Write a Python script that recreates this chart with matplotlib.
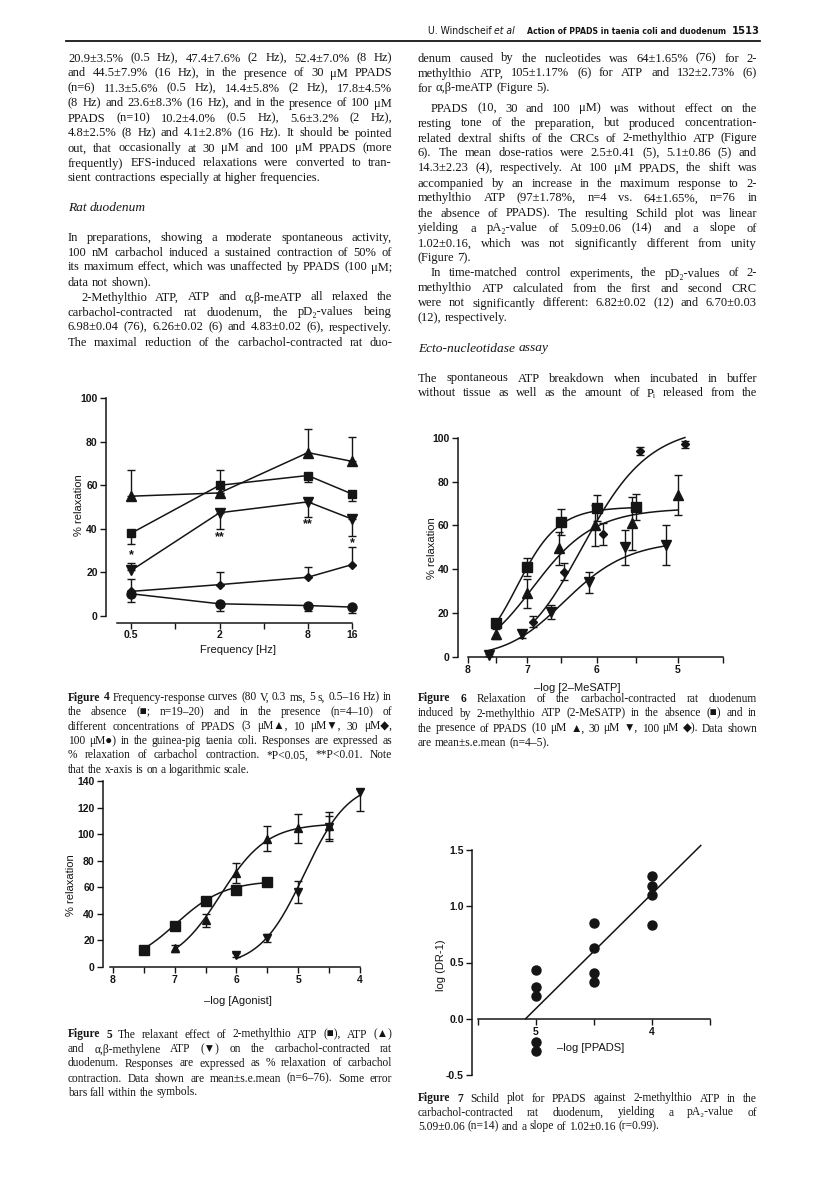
import numpy as np
import matplotlib
matplotlib.use('Agg')
import matplotlib.pyplot as plt
from matplotlib.lines import Line2D
from matplotlib.ticker import NullLocator
from matplotlib import font_manager

W, H = 816, 1187
SERIF = ['Liberation Serif', 'DejaVu Sans']
SANS = ['Liberation Sans', 'DejaVu Sans']
INK = '#151515'

# condensed sans for the running head, if one is installed
condensed = [f for f in font_manager.fontManager.ttflist
             if f.name in ('Liberation Sans Narrow', 'DejaVu Sans') and f.stretch == 'condensed']
if any(f.name == 'Liberation Sans Narrow' for f in font_manager.fontManager.ttflist):
    HEAD, HEAD_STRETCH = ['Liberation Sans Narrow', 'DejaVu Sans'], 'normal'
elif condensed:
    HEAD, HEAD_STRETCH = ['DejaVu Sans'], 'condensed'
else:
    HEAD, HEAD_STRETCH = SANS, 'normal'

# ---------------- Figure 4: taenia coli, EFS frequency-response ----------------
freq_hz = [0.5, 2, 8, 16]
ctrl_mean = [38, 60, 64.5, 56]
ctrl_lo = [5, 0, 3, 3]
ctrl_hi = [0, 7, 0, 0]
p3_mean = [55, 56.5, 75, 71]
p3_lo = [0, 0, 0, 0]
p3_hi = [12, 0, 11, 11]
p10_mean = [20.9, 47.4, 52.4, 44.5]
p10_lo = [0, 7.6, 7.0, 7.9]
p10_hi = [3.5, 0, 0, 0]
p30_mean = [11.3, 14.4, 17.8, 23.6]
p30_lo = [0, 0, 0, 0]
p30_hi = [5.6, 5.8, 4.5, 8.3]
p100_mean = [10.2, 5.6, 4.8, 4.1]
p100_lo = [4.0, 3.2, 2.5, 2.8]
p100_hi = [0, 0, 0, 0]
sig_marks = ['*', '**', '**', '*']
sig_y = [28, 36, 42, 33.5]

# ---------------- Figure 6: 2-MeSATP with PPADS ----------------
f6_sq_x = [7.5, 7.0, 6.5, 6.0, 5.5]
f6_sq_y = [15.5, 41, 61.5, 68, 68.5]
f6_sq_err = [1.5, 4, 6, 6, 6]
f6_up_x = [7.5, 7.0, 6.53, 6.03, 5.55, 5.0]
f6_up_y = [10.5, 29, 49.5, 60, 61, 74]
f6_up_err = [2.5, 6.5, 7.7, 9.5, 12, 9]
f6_dn_x = [7.62, 7.08, 6.64, 6.1, 5.64, 5.14]
f6_dn_y = [1, 10.5, 20.5, 34, 50, 51]
f6_dn_err = [0.5, 2, 3, 5, 8, 9]
f6_di_x = [6.9, 6.45, 5.92, 5.45, 4.92]
f6_di_y = [16, 39, 56, 94, 97]
f6_di_err = [2.5, 4, 5, 2, 1.5]
# fitted curves: top, pEC50, slope, from, to
f6_sq_fit = [68.5, 7.12, 1.4, 7.5, 5.5]
f6_up_fit = [68, 6.85, 1.0, 7.5, 5.0]
f6_dn_fit = [53.5, 6.4, 1.0, 7.65, 5.13]
f6_di_fit = [106, 6.15, 1.0, 6.9, 4.92]

# ---------------- Figure 5: agonists on rat duodenum ----------------
f5_sq_x = [7.5, 7.0, 6.5, 6.0, 5.5]
f5_sq_y = [13, 31, 50, 58, 64]
f5_up_x = [7.0, 6.5, 6.0, 5.5, 5.0, 4.5]
f5_up_y = [14, 35, 70.5, 96.5, 104.5, 106]
f5_up_err = [2.5, 5, 7.5, 9.5, 11, 11]
f5_dn_x = [6.0, 5.5, 5.0, 4.5, 4.0]
f5_dn_y = [9, 22, 56.5, 105, 132]
f5_dn_lo = [1.5, 3, 8.5, 9, 14.5]
f5_dn_hi = [1.5, 3, 8.5, 9, 2]
f5_sq_fit = [65, 6.98, 1.1, 7.5, 5.5]
f5_up_fit = [108, 6.26, 1.15, 7.0, 4.5]
f5_dn_fit = [140, 4.9, 1.2, 6.0, 4.0]

# ---------------- Figure 7: Schild plot ----------------
f7_x = [5, 5, 5, 5, 5, 4.5, 4.5, 4.5, 4.5, 4, 4, 4, 4]
f7_y = [0.43, 0.28, 0.20, -0.21, -0.29, 0.85, 0.63, 0.41, 0.33, 1.27, 1.18, 1.10, 0.83]
pA2 = 5.09
schild_slope = 1.02
schild_end = 3.58

# ---------------- page text ----------------
header_left = 'U. Windscheif'
header_mid = 'Action of PPADS in taenia coli and duodenum'
page_no = '1513'

left_body = [
    ('20.9±3.5% (0.5 Hz), 47.4±7.6% (2 Hz), 52.4±7.0% (8 Hz)', 'j'),
    ('and 44.5±7.9% (16 Hz), in the presence of 30 μM PPADS', 'j'),
    ('(n=6) 11.3±5.6% (0.5 Hz), 14.4±5.8% (2 Hz), 17.8±4.5%', 'j'),
    ('(8 Hz) and 23.6±8.3% (16 Hz), and in the presence of 100 μM', 'j'),
    ('PPADS (n=10) 10.2±4.0% (0.5 Hz), 5.6±3.2% (2 Hz),', 'j'),
    ('4.8±2.5% (8 Hz) and 4.1±2.8% (16 Hz). It should be pointed', 'j'),
    ('out, that occasionally at 30 μM and 100 μM PPADS (more', 'j'),
    ('frequently) EFS-induced relaxations were converted to tran-', 'j'),
    ('sient contractions especially at higher frequencies.', 'l'),
    ('Rat duodenum', 'h'),
    ('In preparations, showing a moderate spontaneous activity,', 'j'),
    ('100 nM carbachol induced a sustained contraction of 50% of', 'j'),
    ('its maximum effect, which was unaffected by PPADS (100 μM;', 'j'),
    ('data not shown).', 'l'),
    ('2-Methylthio ATP, ATP and α,β-meATP all relaxed the', 'i'),
    ('carbachol-contracted rat duodenum, the pD₂-values being', 'j'),
    ('6.98±0.04 (76), 6.26±0.02 (6) and 4.83±0.02 (6), respectively.', 'j'),
    ('The maximal reduction of the carbachol-contracted rat duo-', 'j'),
]
left_rows = [57, 72, 87, 102, 117, 132, 147, 162, 177, 207, 236, 251, 266, 281, 296, 311, 326, 341]

right_body = [
    ('denum caused by the nucleotides was 64±1.65% (76) for 2-', 'j'),
    ('methylthio ATP, 105±1.17% (6) for ATP and 132±2.73% (6)', 'j'),
    ('for α,β-meATP (Figure 5).', 'l'),
    ('PPADS (10, 30 and 100 μM) was without effect on the', 'i'),
    ('resting tone of the preparation, but produced concentration-', 'j'),
    ('related dextral shifts of the CRCs of 2-methylthio ATP (Figure', 'j'),
    ('6). The mean dose-ratios were 2.5±0.41 (5), 5.1±0.86 (5) and', 'j'),
    ('14.3±2.23 (4), respectively. At 100 μM PPADS, the shift was', 'j'),
    ('accompanied by an increase in the maximum response to 2-', 'j'),
    ('methylthio ATP (97±1.78%, n=4 vs. 64±1.65%, n=76 in', 'j'),
    ('the absence of PPADS). The resulting Schild plot was linear', 'j'),
    ('yielding a pA₂-value of 5.09±0.06 (14) and a slope of', 'j'),
    ('1.02±0.16, which was not significantly different from unity', 'j'),
    ('(Figure 7).', 'l'),
    ('In time-matched control experiments, the pD₂-values of 2-', 'i'),
    ('methylthio ATP calculated from the first and second CRC', 'j'),
    ('were not significantly different: 6.82±0.02 (12) and 6.70±0.03', 'j'),
    ('(12), respectively.', 'l'),
    ('Ecto-nucleotidase assay', 'h'),
    ('The spontaneous ATP breakdown when incubated in buffer', 'j'),
    ('without tissue as well as the amount of Pᵢ released from the', 'j'),
]
right_rows = [57, 72, 87, 107, 122, 137, 152, 167, 182, 197, 212, 227, 242, 257,
              272, 287, 302, 317, 347, 377, 392]

fig4_caption = [
    ('Figure 4 Frequency-response curves (80 V, 0.3 ms, 5 s, 0.5–16 Hz) in', 'f'),
    ('the absence (■; n=19–20) and in the presence (n=4–10) of', 'j'),
    ('different concentrations of PPADS (3 μM▲, 10 μM▼, 30 μM◆,', 'j'),
    ('100 μM●) in the guinea-pig taenia coli. Responses are expressed as', 'j'),
    ('% relaxation of carbachol contraction. *P<0.05, **P<0.01. Note', 'j'),
    ('that the x-axis is on a logarithmic scale.', 'l'),
]
fig6_caption = [
    ('Figure 6 Relaxation of the carbachol-contracted rat duodenum', 'f'),
    ('induced by 2-methylthio ATP (2-MeSATP) in the absence (■) and in', 'j'),
    ('the presence of PPADS (10 μM ▲, 30 μM ▼, 100 μM ◆). Data shown', 'j'),
    ('are mean±s.e.mean (n=4–5).', 'l'),
]
fig5_caption = [
    ('Figure 5 The relaxant effect of 2-methylthio ATP (■), ATP (▲)', 'f'),
    ('and α,β-methylene ATP (▼) on the carbachol-contracted rat', 'j'),
    ('duodenum. Responses are expressed as % relaxation of carbachol', 'j'),
    ('contraction. Data shown are mean±s.e.mean (n=6–76). Some error', 'j'),
    ('bars fall within the symbols.', 'l'),
]
fig7_caption = [
    ('Figure 7 Schild plot for PPADS against 2-methylthio ATP in the', 'f'),
    ('carbachol-contracted rat duodenum, yielding a pA₂-value of', 'j'),
    ('5.09±0.06 (n=14) and a slope of 1.02±0.16 (r=0.99).', 'l'),
]

plt.rcParams['font.family'] = SANS
plt.rcParams['axes.linewidth'] = 1.1
plt.rcParams['axes.edgecolor'] = INK

fig = plt.figure(figsize=(W / 100, H / 100), dpi=100)
fig.patch.set_facecolor('white')
renderer = fig.canvas.get_renderer()


def fx(px):
    return px / W


def fy(py):
    return 1 - py / H


def box(left, right, top, bottom):
    return [fx(left), fy(bottom), (right - left) / W, (bottom - top) / H]


def put_words(words, x0, x1, y, size, justify, bold_n=0, style='normal'):
    arts = []
    for k, w in enumerate(words):
        arts.append(fig.text(0, fy(y), w, size=size, family=SERIF, style=style,
                             weight='bold' if k < bold_n else 'normal',
                             va='center_baseline', ha='left', color=INK))
    widths = [a.get_window_extent(renderer).width for a in arts]
    gap = size * 100 / 72 * 0.25
    if justify and len(words) > 1:
        gap = (x1 - x0 - sum(widths)) / (len(words) - 1)
    x = x0
    for a, w in zip(arts, widths):
        a.set_x(fx(x))
        x += w + gap


def put_block(lines, rows, x0, x1, size):
    for (s, kind), y in zip(lines, rows):
        words = s.split()
        if kind == 'h':
            put_words(words, x0, x1, y, size + 0.6, False, style='italic')
        elif kind == 'l':
            put_words(words, x0, x1, y, size, False)
        elif kind == 'i':
            put_words(words, x0 + 13, x1, y, size, True)
        elif kind == 'f':
            put_words(words, x0, x1, y, size, True, bold_n=2)
        else:
            put_words(words, x0, x1, y, size, True)


def hill(x, top, pec50, n):
    return top / (1 + 10 ** (n * (np.asarray(x) - pec50)))


def fit_curve(ax, fit):
    top, pec50, n, x_from, x_to = fit
    xs = np.linspace(x_from, x_to, 200)
    ax.plot(xs, hill(xs, top, pec50, n), color=INK, lw=1.1, clip_on=False)


def frame(ax):
    ax.spines['top'].set_visible(False)
    ax.spines['right'].set_visible(False)
    ax.patch.set_alpha(0)
    ax.tick_params(length=4, width=1.0, pad=2, labelsize=7.5,
                   labelcolor=INK, color=INK)


# running head
head_kw = dict(family=HEAD, stretch=HEAD_STRETCH, va='center_baseline', color=INK)
t_al = fig.text(fx(515), fy(30), 'et al', style='italic', ha='right', size=7.5, **head_kw)
w_al = t_al.get_window_extent(renderer).width
fig.text(fx(515 - w_al - 3), fy(30), header_left, ha='right', size=7.5, **head_kw)
t_mid = fig.text(fx(527), fy(30), header_mid, weight='bold', ha='left', size=7.5, **head_kw)
w_mid = t_mid.get_window_extent(renderer).width
if w_mid > 196:
    t_mid.set_fontsize(7.5 * 196 / w_mid)
fig.text(fx(760), fy(30), page_no, weight='bold', ha='right', size=8, **head_kw)
fig.add_artist(Line2D([fx(66), fx(760)], [fy(41), fy(41)], lw=1.3, color=INK,
                      transform=fig.transFigure))

# body text
put_block(left_body, left_rows, 68, 392, 9)
put_block(right_body, right_rows, 418, 757, 9)

# captions
put_block(fig4_caption, [696, 710.5, 725, 739.5, 754, 768.5], 68, 392, 8.3)
put_block(fig6_caption, [697, 712, 727, 742], 418, 757, 8.3)
put_block(fig5_caption, [1033, 1048, 1062, 1077, 1091], 68, 392, 8.3)
put_block(fig7_caption, [1097, 1111, 1125], 418, 757, 8.3)

# ---------------- Figure 4 ----------------
ax4 = fig.add_axes(box(106, 362, 396, 616))
ax4.set_xscale('log', base=2)
ax4.set_xlim(0.337, 18.7)
ax4.set_ylim(0, 101)
fig4_series = [
    (ctrl_mean, ctrl_lo, ctrl_hi, 's', 6),
    (p3_mean, p3_lo, p3_hi, '^', 6.5),
    (p10_mean, p10_lo, p10_hi, 'v', 6.5),
    (p30_mean, p30_lo, p30_hi, 'D', 4.3),
    (p100_mean, p100_lo, p100_hi, 'o', 6.5),
]
for mean, lo, hi, mk, ms in fig4_series:
    ax4.errorbar(freq_hz, mean, yerr=[lo, hi], fmt=mk + '-', color=INK, ms=ms,
                 lw=1.1, elinewidth=1.0, capsize=2.8, capthick=1.0)
for x, s, yy in zip(freq_hz, sig_marks, sig_y):
    ax4.text(x, yy, s, ha='center', va='center', fontsize=9, weight='bold', color=INK)
frame(ax4)
ax4.spines['bottom'].set_position(('outward', 5))
ax4.spines['bottom'].set_bounds(0.4, 16)
ax4.spines['left'].set_bounds(0, 100)
ax4.tick_params(axis='x', pad=1)
ax4.set_xticks([0.5, 1, 2, 4, 8, 16], ['0.5', '', '2', '', '8', '16'], fontweight='bold')
ax4.xaxis.set_minor_locator(NullLocator())
ax4.set_yticks([0, 20, 40, 60, 80, 100], ['0', '20', '40', '60', '80', '100'], fontweight='bold')
fig.text(fx(79), fy(505), '% relaxation', rotation=90, ha='center', va='center', size=8, color=INK)
fig.text(fx(238), fy(650), 'Frequency [Hz]', ha='center', va='center', size=8, color=INK)


# ---------------- Figure 6 ----------------
# the printed x-axis is slightly stretched towards high concentrations
def f6_fwd(x):
    t = 8 - np.asarray(x, dtype=float)
    return -(53.5 * t + 5.5 * t ** 2)


def f6_inv(u):
    u = np.asarray(u, dtype=float)
    return 8 - (-53.5 + np.sqrt(np.maximum(53.5 ** 2 - 22 * u, 0))) / 11


ax6 = fig.add_axes(box(457.5, 722.6, 429, 657))
ax6.set_xscale('function', functions=(f6_fwd, f6_inv))
ax6.set_xlim(8.2, 4.5)
ax6.set_ylim(0, 104)
for fit in [f6_sq_fit, f6_up_fit, f6_dn_fit, f6_di_fit]:
    fit_curve(ax6, fit)
for xs, ys, err, mk, ms in [(f6_sq_x, f6_sq_y, f6_sq_err, 's', 6.5),
                            (f6_up_x, f6_up_y, f6_up_err, '^', 6.5),
                            (f6_dn_x, f6_dn_y, f6_dn_err, 'v', 6.5),
                            (f6_di_x, f6_di_y, f6_di_err, 'D', 4.3)]:
    ax6.errorbar(xs, ys, yerr=err, fmt=mk, color=INK, ms=ms, elinewidth=1.0,
                 capsize=2.8, capthick=1.0, clip_on=False)
frame(ax6)
ax6.spines['bottom'].set_bounds(8, 4.5)
ax6.spines['left'].set_bounds(0, 100)
ax6.set_xticks([8, 7.5, 7, 6.5, 6, 5.5, 5, 4.5], ['8', '', '7', '', '6', '', '5', ''], fontweight='bold')
ax6.xaxis.set_minor_locator(NullLocator())
ax6.set_yticks([0, 20, 40, 60, 80, 100], ['0', '20', '40', '60', '80', '100'], fontweight='bold')
fig.text(fx(432), fy(548), '% relaxation', rotation=90, ha='center', va='center', size=8, color=INK)
fig.text(fx(577), fy(688), '–log [2–MeSATP]', ha='center', va='center', size=8, color=INK)

# ---------------- Figure 5 ----------------
ax5 = fig.add_axes(box(103, 365, 778.3, 967))
ax5.set_xlim(8.16, 3.917)
ax5.set_ylim(0, 142)
for fit in [f5_sq_fit, f5_up_fit, f5_dn_fit]:
    fit_curve(ax5, fit)
ax5.plot(f5_sq_x, f5_sq_y, 's', color=INK, ms=6.5)
ax5.errorbar(f5_up_x, f5_up_y, yerr=f5_up_err, fmt='^', color=INK, ms=5.5,
             elinewidth=1.0, capsize=2.8, capthick=1.0)
ax5.errorbar(f5_dn_x, f5_dn_y, yerr=[f5_dn_lo, f5_dn_hi], fmt='v', color=INK, ms=6,
             elinewidth=1.0, capsize=2.8, capthick=1.0, clip_on=False)
frame(ax5)
ax5.spines['bottom'].set_bounds(8.05, 4)
ax5.spines['left'].set_bounds(0, 140)
ax5.set_xticks([8, 7.5, 7, 6.5, 6, 5.5, 5, 4.5, 4], ['8', '', '7', '', '6', '', '5', '', '4'], fontweight='bold')
ax5.set_yticks(range(0, 141, 20), [str(v) for v in range(0, 141, 20)], fontweight='bold')
fig.text(fx(71), fy(885), '% relaxation', rotation=90, ha='center', va='center', size=8, color=INK)
fig.text(fx(238), fy(1001), '–log [Agonist]', ha='center', va='center', size=8, color=INK)

# ---------------- Figure 7 ----------------
ax7 = fig.add_axes(box(472, 715, 850, 1075))
ax7.set_xlim(5.552, 3.457)
ax7.set_ylim(-0.5, 1.5)
ax7.plot(f7_x, f7_y, 'o', color=INK, ms=6.5, clip_on=False)
line_x = np.array([pA2, schild_end])
ax7.plot(line_x, schild_slope * (pA2 - line_x), color=INK, lw=1.1, clip_on=False)
frame(ax7)
ax7.spines['bottom'].set_position(('data', 0))
ax7.spines['bottom'].set_bounds(5.5, 3.5)
ax7.spines['left'].set_bounds(-0.5, 1.5)
ax7.set_xticks([5.5, 5, 4.5, 4, 3.5], ['', '5', '', '4', ''], fontweight='bold')
ax7.set_yticks([-0.5, 0, 0.5, 1.0, 1.5], ['-0.5', '0.0', '0.5', '1.0', '1.5'], fontweight='bold')
ax7.text(4.53, -0.26, '–log [PPADS]', ha='center', va='center', size=8, color=INK)
fig.text(fx(441), fy(965), 'log (DR-1)', rotation=90, ha='center', va='center', size=8, color=INK)

fig.savefig('out.png', dpi=100, facecolor='white')
